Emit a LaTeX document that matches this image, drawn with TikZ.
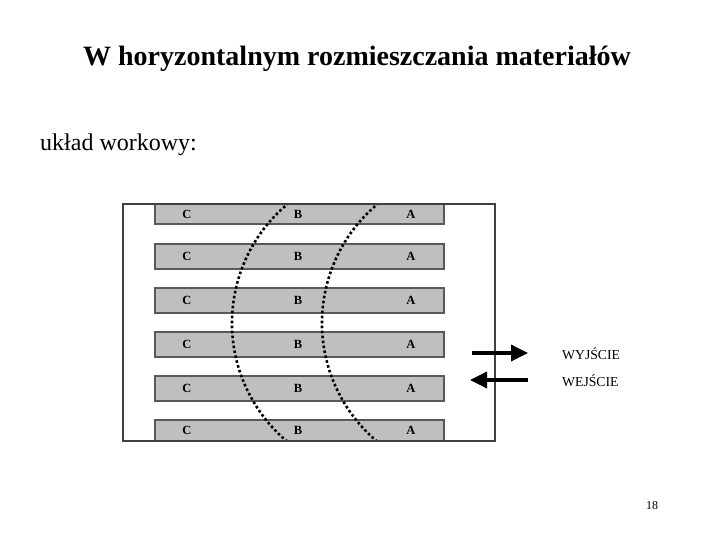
\documentclass[tikz,border=0pt]{standalone}
\usepackage{fontspec}
\setmainfont{Liberation Serif}
\usetikzlibrary{arrows.meta}
\begin{document}
\begin{tikzpicture}[x=1pt,y=1pt,
  barbox/.style={draw=black!65, line width=1.2pt, fill=black!25, minimum width=289pt, inner sep=0pt, outer sep=0pt},
  lab/.style={font=\bfseries\fontsize{12.5}{14}\selectfont, inner sep=0pt},
  dotcurve/.style={line width=2.6pt, dash pattern=on 2.6pt off 2.4pt, black},
  bigarrow/.style={line width=3.5pt, -{Triangle[length=17pt,width=16pt]}},
  side/.style={font=\fontsize{13.7}{15}\selectfont, anchor=west, inner sep=0pt}]
\useasboundingbox (0,0) rectangle (720,540);
\fill[white] (0,0) rectangle (720,540);
% title and texts
\node[font=\bfseries\fontsize{28}{32}\selectfont, anchor=base, inner sep=0pt] (title) at (357,474) {W horyzontalnym rozmieszczania materiałów};
\node[font=\fontsize{24}{28}\selectfont, anchor=base west, inner sep=0pt] (uklad) at (40,389) {układ workowy:};
\node[font=\fontsize{12}{14}\selectfont, anchor=base, inner sep=0pt] (page) at (652,30) {18};
% bars
\node[barbox, minimum height=20pt] (b1) at (299.5,326) {};
\node[barbox, minimum height=25pt] (b2) at (299.5,283.5) {};
\node[barbox, minimum height=25pt] (b3) at (299.5,239.5) {};
\node[barbox, minimum height=25pt] (b4) at (299.5,195.5) {};
\node[barbox, minimum height=25pt] (b5) at (299.5,151.5) {};
\node[barbox, minimum height=21pt] (b6) at (299.5,109.5) {};
% dotted curves
\begin{scope}
\clip (123,99) rectangle (495,336);
\draw[dotcurve] (387,217) ++(120:155) arc[start angle=120, end angle=240, radius=155];
\draw[dotcurve] (477,217) ++(120:155) arc[start angle=120, end angle=240, radius=155];
\end{scope}
% letters
\foreach \i in {1,...,6} {
  \node[lab] (c\i) at (187,0 |- b\i.center) {C};
  \node[lab] (bb\i) at (298,0 |- b\i.center) {B};
  \node[lab] (a\i) at (411,0 |- b\i.center) {A};
}
% frame
\node[draw=black!75, line width=1.5pt, minimum width=372pt, minimum height=237pt, inner sep=0pt] (frame) at (309,217.5) {};
% arrows
\coordinate (o1) at (472,187);
\coordinate (o2) at (528,187);
\coordinate (i1) at (528,160);
\coordinate (i2) at (470,160);
\draw[bigarrow] (o1) -- (o2);
\draw[bigarrow] (i1) -- (i2);
\node[side] (wyj) at (562,186) {WYJŚCIE};
\node[side] (wej) at (562,159) {WEJŚCIE};
\end{tikzpicture}
\end{document}
